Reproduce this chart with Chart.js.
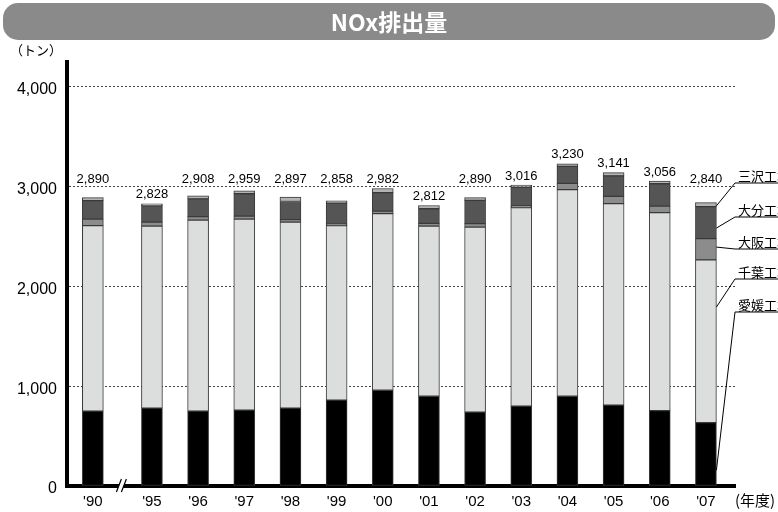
<!DOCTYPE html>
<html>
<head>
<meta charset="utf-8">
<script src="https://cdn.jsdelivr.net/npm/chart.js@4.4.1/dist/chart.umd.min.js"></script>
<style>
  html, body { margin: 0; padding: 0; background: #fff; }
  #wrap { width: 778px; height: 512px; }
</style>
</head>
<body>
<div id="wrap"><canvas id="c" width="778" height="512"></canvas></div>
<script>
// years on the x axis ('90 then a break, then '95..'07)
const YEARS = ["'90", "'95", "'96", "'97", "'98", "'99", "'00", "'01", "'02", "'03", "'04", "'05", "'06", "'07"];
// printed totals above each bar (tonnes)
const TOTALS = [2890, 2828, 2908, 2959, 2897, 2858, 2982, 2812, 2890, 3016, 3230, 3141, 3056, 2840];
// per-plant NOx, stacked bottom to top
const EHIME  = [750, 780, 750, 760, 780, 860, 960, 900, 740, 800, 900, 810, 755, 635];
const CHIBA  = [1860, 1825, 1915, 1915, 1865, 1750, 1770, 1705, 1855, 1990, 2070, 2020, 1985, 1632];
const OSAKA  = [65, 40, 35, 30, 25, 15, 25, 27, 35, 17, 63, 73, 66, 213];
const OITA   = [185, 163, 178, 224, 182, 210, 185, 147, 233, 189, 170, 205, 224, 320];
const MISAWA = [30, 20, 30, 30, 45, 23, 42, 33, 27, 20, 27, 33, 26, 40];
const PLANTS = ['愛媛工場', '千葉工場', '大阪工場', '大分工場', '三沢工場'];
const Y_TICKS = [0, 1000, 2000, 3000, 4000];

// the '90 bar sits a bit further left because of the axis break
const BREAK = 1.28;
const xPos = i => (i === 0 ? -BREAK : i - 1);

const COLORS = ['#000000', '#dcdddd', '#8c8c8c', '#555555', '#b4b4b4'];
const series = [EHIME, CHIBA, OSAKA, OITA, MISAWA];

const datasets = series.map((vals, k) => ({
  label: PLANTS[k],
  data: vals.map((v, i) => ({ x: xPos(i), y: v })),
  backgroundColor: COLORS[k],
  borderColor: '#3a3a3a',
  borderWidth: 1,
  borderSkipped: false,
  barThickness: 21,
  stack: 'all'
}));

const CJK = "'Noto Sans CJK JP', 'Noto Sans', sans-serif";
const LATIN = "'Liberation Sans', Arial, sans-serif";

// where the plant labels sit at the right edge
const LABEL_Y = [305, 272, 242, 210, 176];
const LEADER_FRAC = [0.25, 0.71, 0.6, 0.33, 0.2];

const overlay = {
  id: 'overlay',
  afterDraw(chart) {
    const { ctx, chartArea } = chart;
    const y = chart.scales.y;
    const top = chart.getDatasetMeta(series.length - 1).data;

    ctx.save();
    // title bar
    ctx.fillStyle = '#8a8a8a';
    ctx.beginPath();
    ctx.roundRect(3, 3, 772, 37, 15);
    ctx.fill();
    ctx.fillStyle = '#fff';
    ctx.font = 'bold 23px ' + CJK;
    ctx.textAlign = 'center';
    ctx.textBaseline = 'middle';
    ctx.fillText('NOx排出量', 389, 22);

    // unit labels
    ctx.fillStyle = '#000';
    ctx.font = '13px ' + CJK;
    ctx.textAlign = 'left';
    ctx.fillText('（トン）', 10, 50);
    ctx.font = '15px ' + CJK;
    ctx.fillText('(年度)', 735, 500);

    // totals above bars
    ctx.font = '13px ' + LATIN;
    ctx.textAlign = 'center';
    TOTALS.forEach((t, i) => {
      let ty = top[i].y - 9;
      if (ty > 180 && ty < 194) ty = 179;
      ctx.fillText(t.toLocaleString('en-US'), top[i].x, ty);
    });

    // axis break mark
    const mx = (top[0].x + top[1].x) / 2;
    const by = chartArea.bottom;
    ctx.fillStyle = '#fff';
    ctx.beginPath();
    ctx.moveTo(mx - 6, by + 6);
    ctx.lineTo(mx - 1, by - 7);
    ctx.lineTo(mx + 4, by - 7);
    ctx.lineTo(mx - 1, by + 6);
    ctx.closePath();
    ctx.fill();
    ctx.strokeStyle = '#000';
    ctx.lineWidth = 1.2;
    ctx.beginPath();
    ctx.moveTo(mx - 6, by + 6); ctx.lineTo(mx - 1, by - 7);
    ctx.moveTo(mx - 1, by + 6); ctx.lineTo(mx + 4, by - 7);
    ctx.stroke();

    // leader lines and plant names
    const last = YEARS.length - 1;
    const barRight = top[last].x + top[last].width / 2;
    let base = 0;
    ctx.font = '13px ' + CJK;
    ctx.textAlign = 'left';
    ctx.fillStyle = '#000';
    ctx.lineWidth = 1;
    series.forEach((vals, k) => {
      const py = y.getPixelForValue(base + vals[last] * LEADER_FRAC[k]);
      base += vals[last];
      const ly = LABEL_Y[k];
      const uy = ly + 7;
      ctx.beginPath();
      ctx.moveTo(778, uy);
      ctx.lineTo(735, uy);
      ctx.lineTo(barRight, py);
      ctx.stroke();
      ctx.fillText(PLANTS[k], 738, ly);
    });
    ctx.restore();
  }
};

Chart.defaults.font.family = LATIN;
Chart.defaults.color = '#000';

new Chart(document.getElementById('c'), {
  type: 'bar',
  data: { datasets },
  options: {
    responsive: false,
    animation: false,
    layout: { padding: { top: 62, right: 43, left: 0, bottom: 0 } },
    plugins: { legend: { display: false }, tooltip: { enabled: false } },
    scales: {
      x: {
        type: 'linear',
        min: -1.84,
        max: 12.63,
        offset: false,
        stacked: true,
        grid: { display: false },
        border: { color: '#000', width: 4 },
        afterBuildTicks: s => { s.ticks = YEARS.map((_, i) => ({ value: xPos(i) })); },
        afterFit: s => { s.height = 26; },
        ticks: {
          autoSkip: false,
          maxRotation: 0,
          padding: -1,
          font: { size: 15 },
          callback: (v, i) => YEARS[i]
        }
      },
      y: {
        min: 0,
        max: 4250,
        stacked: true,
        border: { color: '#000', width: 4, dash: [2, 2] },
        grid: {
          color: c => (c.tick.value === 0 ? 'rgba(0,0,0,0)' : '#444'),
          lineWidth: 1,
          drawTicks: false
        },
        afterBuildTicks: s => { s.ticks = Y_TICKS.map(v => ({ value: v })); },
        afterFit: s => { s.width = 67; },
        ticks: {
          padding: 10,
          labelOffset: 3,
          font: { size: 16 },
          callback: v => v.toLocaleString('en-US')
        }
      }
    }
  },
  plugins: [overlay]
});
</script>
</body>
</html>
